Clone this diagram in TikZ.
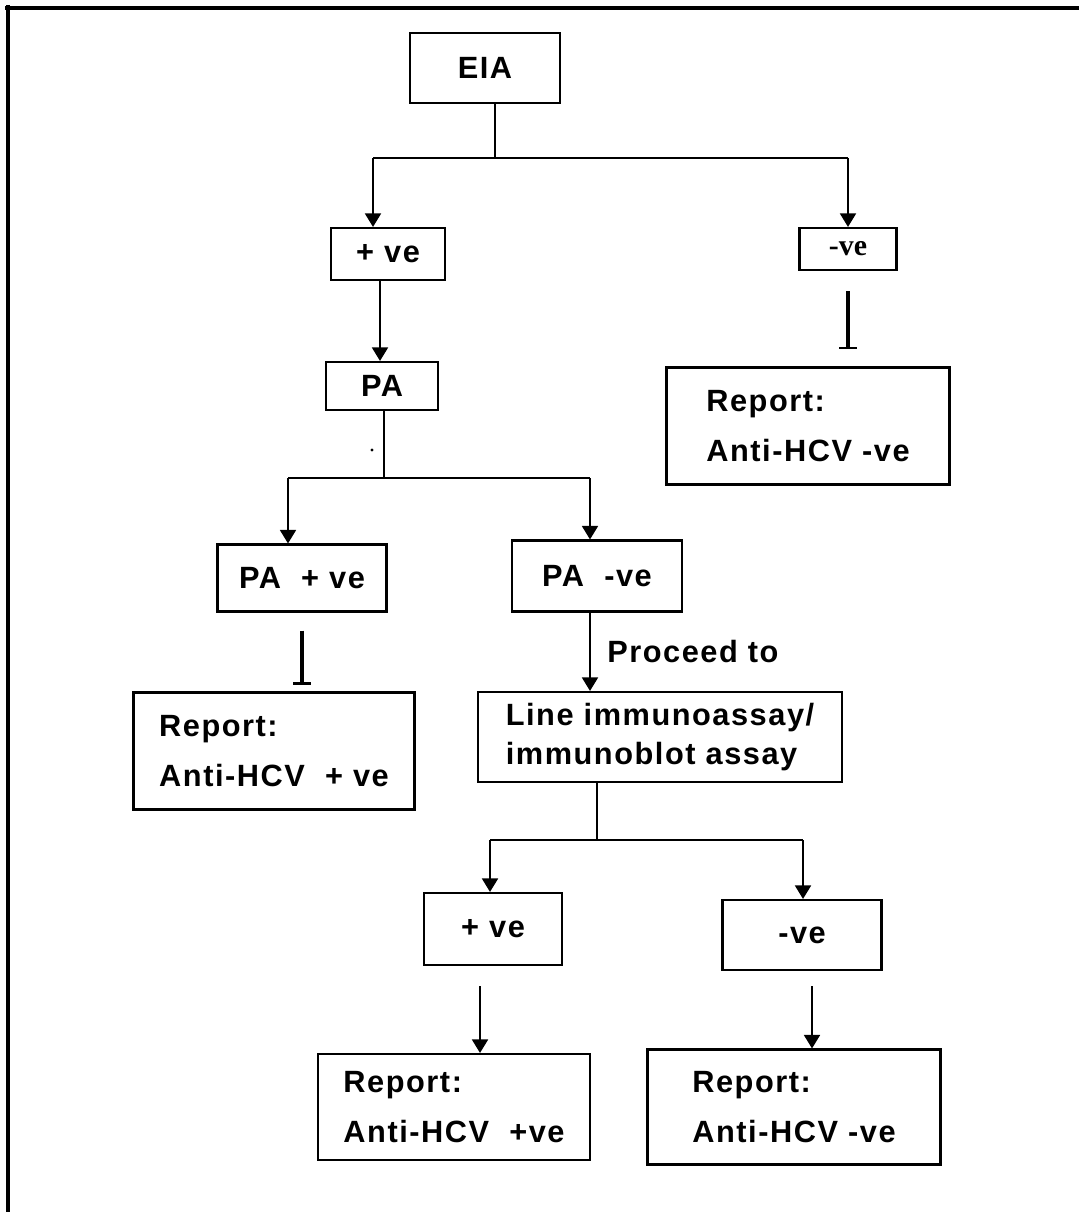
\documentclass[tikz,border=0pt]{standalone}
\usepackage{fontspec}
\usepackage{tikz}
\usetikzlibrary{arrows.meta, calc}
\newfontfamily\chartfont[LetterSpace=5.0]{Liberation Sans}
\newfontfamily\chartserif{Liberation Serif}
\newcommand{\unitpx}{0.02cm}

\tikzset{
  box/.style={draw, line width=1.2pt, inner sep=0pt, align=center,
    font=\chartfont\bfseries\fontsize{17.5}{28}\selectfont},
  report/.style={box, align=left},
  arr/.style={-{Triangle[width=0.32cm,length=0.27cm]}, line width=1pt},
  link/.style={line width=1pt},
  stub/.style={line width=2pt},
}

\begin{document}
\begin{tikzpicture}[x=0.02cm,y=-0.02cm]
\useasboundingbox (0,0) rectangle (1079,1212);
% frame
\draw[line width=2.2pt] (5,8) -- (1079,8);
\draw[line width=2.2pt] (8,5) -- (8,1212);

% first test
\node[box, minimum width=150*\unitpx, minimum height=70*\unitpx] (eia) at (485,68) {EIA};
\node[box, minimum width=114*\unitpx, minimum height=52*\unitpx] (pos) at (388,254) {+ ve};
\node[box, minimum width=97*\unitpx, minimum height=42*\unitpx,
  font=\chartserif\bfseries\fontsize{17}{20}\selectfont] (neg) at (848,249) {-ve};
\node[report, minimum width=283*\unitpx, minimum height=117*\unitpx] (repNeg) at (808,426)
  {Report:\\Anti-HCV -ve};
\coordinate (eiaFork) at (495,158);
\coordinate (eiaL) at (373,158);
\coordinate (eiaR) at (848,158);
\draw[link] (eia.south -| eiaFork) -- (eiaFork);
\draw[link] (eiaL) -- (eiaR);
\draw[arr] (eiaL) -- (eiaL |- pos.north);
\draw[arr] (eiaR) -- (eiaR |- neg.north);
\draw[stub, shorten <=20*\unitpx, shorten >=18*\unitpx] (neg.south) -- (neg.south |- repNeg.north);
\draw[line width=1.2pt] ($(neg.south |- repNeg.north)+(-9,-18)$) -- ($(neg.south |- repNeg.north)+(9,-18)$);

% passive agglutination
\node[box, minimum width=112*\unitpx, minimum height=48*\unitpx] (pa) at (382,386) {PA};
\draw[arr] (pos.south -| 380,0) -- (pa.north -| 380,0);
\coordinate (paFork) at (384,478);
\coordinate (paL) at (288,478);
\coordinate (paR) at (590,478);
\fill (372,450) circle (1.6);
\draw[link] (pa.south -| paFork) -- (paFork);
\draw[link] (paL) -- (paR);
\node[box, minimum width=169*\unitpx, minimum height=67*\unitpx] (paPos) at (302,578) {PA~ + ve};
\node[box, minimum width=170*\unitpx, minimum height=71*\unitpx] (paNeg) at (597,576) {PA~ -ve};
\draw[arr] (paL) -- (paL |- paPos.north);
\draw[arr] (paR) -- (paR |- paNeg.north);
\node[report, minimum width=281*\unitpx, minimum height=117*\unitpx] (repPos) at (274,751)
  {Report:\\Anti-HCV~ + ve};
\draw[stub, shorten <=18*\unitpx, shorten >=8*\unitpx] (paPos.south) -- (paPos.south |- repPos.north);
\draw[line width=1.2pt] ($(paPos.south |- repPos.north)+(-9,-8)$) -- ($(paPos.south |- repPos.north)+(9,-8)$);

% line immunoassay
\node[report, minimum width=364*\unitpx, minimum height=90*\unitpx,
  font=\chartfont\bfseries\fontsize{17.5}{22}\selectfont] (lia) at (660,737)
  {Line immunoassay/\\immunoblot assay};
\draw[arr] (paNeg.south -| paR) -- (lia.north -| paR)
  node[midway, right=6pt, font=\chartfont\bfseries\fontsize{17.5}{20}\selectfont] {Proceed to};
\coordinate (liaFork) at (597,840);
\coordinate (liaL) at (490,840);
\coordinate (liaR) at (803,840);
\draw[link] (lia.south -| liaFork) -- (liaFork);
\draw[link] (liaL) -- (liaR);
\node[box, minimum width=138*\unitpx, minimum height=72*\unitpx] (liaPos) at (493,929) {+ ve};
\node[box, minimum width=159*\unitpx, minimum height=70*\unitpx] (liaNeg) at (802,935) {-ve};
\draw[arr] (liaL) -- (liaL |- liaPos.north);
\draw[arr] (liaR) -- (liaR |- liaNeg.north);
\node[report, minimum width=272*\unitpx, minimum height=106*\unitpx] (repLiaPos) at (454,1107)
  {Report:\\Anti-HCV~ +ve};
\node[report, minimum width=293*\unitpx, minimum height=115*\unitpx] (repLiaNeg) at (794,1107)
  {Report:\\Anti-HCV -ve};
\draw[arr, shorten <=20*\unitpx] (liaPos.south -| 480,0) -- (repLiaPos.north -| 480,0);
\draw[arr, shorten <=15*\unitpx] (liaNeg.south -| 812,0) -- (repLiaNeg.north -| 812,0);
\end{tikzpicture}
\end{document}
